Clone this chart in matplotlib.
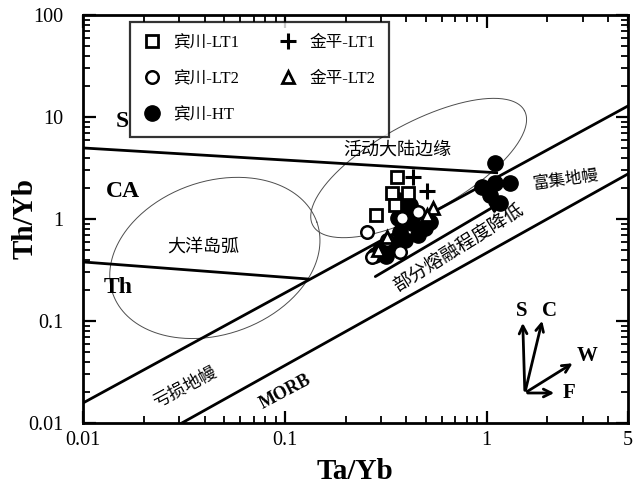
import numpy as np
import matplotlib.pyplot as plt
from matplotlib.ticker import FixedLocator, FixedFormatter, LogLocator, NullFormatter

plt.rcParams['font.family'] = ['Liberation Serif', 'Noto Sans CJK SC']

# 宾川-LT1 (open squares)
bc_lt1_x = [0.358, 0.339, 0.406, 0.282, 0.351]
bc_lt1_y = [2.58, 1.80, 1.80, 1.09, 1.37]
# 宾川-LT2 (open circles)
bc_lt2_x = [0.255, 0.455, 0.379, 0.371, 0.320, 0.270]
bc_lt2_y = [0.746, 1.17, 1.02, 0.470, 0.622, 0.424]
# 宾川-HT (filled circles)
bc_ht_x = [1.096, 0.944, 1.096, 1.30, 1.035, 1.16,
           0.362, 0.393, 0.362, 0.426, 0.493, 0.455, 0.371,
           0.393, 0.339, 0.295, 0.279, 0.316, 0.522, 0.416]
bc_ht_y = [3.54, 2.06, 2.25, 2.25, 1.72, 1.43,
           1.54, 1.22, 1.02, 0.914, 0.817, 0.697, 0.746,
           0.622, 0.556, 0.496, 0.444, 0.434, 0.935, 1.37]
# 金平-LT1 (plus)
jp_lt1_x = [0.431, 0.505]
jp_lt1_y = [2.58, 1.88]
# 金平-LT2 (open triangles)
jp_lt2_x = [0.541, 0.505, 0.320, 0.290]
jp_lt2_y = [1.28, 1.09, 0.667, 0.496]

# field boundaries
s_ca_x, s_ca_y = [0.01, 1.12], [4.97, 2.84]
ca_th_x, ca_th_y = [0.01, 0.13], [0.379, 0.258]
upper_x, upper_y = [0.01, 5.0], [0.0157, 12.8]
lower_x, lower_y = [0.0309, 5.0], [0.01, 2.76]
melt_x, melt_y = [0.273, 1.23], [0.264, 1.53]

# ellipses: centre (Ta/Yb, Th/Yb), semi-axes in decades, angle in degrees
arc_ell = (0.045, 0.415, 1.06, 0.75, 19.4)
acm_ell = (0.46, 3.16, 1.18, 0.44, 28.5)

fig = plt.figure(figsize=(6.35, 4.96), dpi=100)
ax = fig.add_axes([0.1307, 0.1472, 0.858, 0.8226])
ax.set_xscale('log')
ax.set_yscale('log')
ax.set_xlim(0.01, 5)
ax.set_ylim(0.01, 100)

# decade aspect of the axes (x decade px / y decade px)
asp = (0.858 * 635 / np.log10(5 / 0.01)) / (0.8226 * 496 / 4)

def ellipse(cx, cy, a, b, ang):
    t = np.linspace(0, 2 * np.pi, 300)
    th = np.radians(ang)
    lx = np.log10(cx) + (a * np.cos(t) * np.cos(th) - b * np.sin(t) * np.sin(th)) / asp
    ly = np.log10(cy) + (a * np.cos(t) * np.sin(th) + b * np.sin(t) * np.cos(th))
    return 10 ** lx, 10 ** ly

for e in (arc_ell, acm_ell):
    ex, ey = ellipse(*e)
    ax.plot(ex, ey, color='0.3', lw=0.7)

for lx, ly in [(s_ca_x, s_ca_y), (ca_th_x, ca_th_y), (upper_x, upper_y), (lower_x, lower_y)]:
    ax.plot(lx, ly, color='k', lw=2)

ax.annotate('', xy=(melt_x[1], melt_y[1]), xytext=(melt_x[0], melt_y[0]),
            arrowprops=dict(arrowstyle='-|>', lw=2, color='k', mutation_scale=16))

ax.plot(bc_ht_x, bc_ht_y, ls='none', marker='o', ms=11, mfc='k', mec='k', label='宾川-HT')
ax.plot(bc_lt1_x, bc_lt1_y, ls='none', marker='s', ms=8, mfc='white', mec='k', mew=2, label='宾川-LT1')
ax.plot(bc_lt2_x, bc_lt2_y, ls='none', marker='o', ms=9, mfc='white', mec='k', mew=1.8, label='宾川-LT2')
ax.plot(jp_lt1_x, jp_lt1_y, ls='none', marker='+', ms=11, mec='k', mew=2.2, label='金平-LT1')
ax.plot(jp_lt2_x, jp_lt2_y, ls='none', marker='^', ms=9, mfc='white', mec='k', mew=2, label='金平-LT2')

h, l = ax.get_legend_handles_labels()
order = [1, 2, 0, 3, 4]
leg = ax.legend([h[i] for i in order], [l[i] for i in order], ncol=2, loc='upper left',
                bbox_to_anchor=(0.086, 0.983), frameon=True, fancybox=False, edgecolor='k',
                fontsize=12, handletextpad=0.8, columnspacing=2.4, labelspacing=1.2,
                borderpad=0.8, handlelength=1.0, borderaxespad=0)
leg.get_frame().set_linewidth(1.6)

# field labels
ax.text(0.362, 4.74, '活动大陆边缘', fontsize=13, ha='center', va='center')
ax.text(0.0393, 0.531, '大洋岛弧', fontsize=13, ha='center', va='center')
ax.text(2.46, 2.41, '富集地幔', fontsize=12, ha='center', va='center', rotation=8)
ax.text(0.726, 0.52, '部分熔融程度降低', fontsize=13.5, ha='center', va='center', rotation=32)
ax.text(0.032, 0.022, '亏损地幔', fontsize=12.5, ha='center', va='center', rotation=28)
ax.text(0.1, 0.0201, 'MORB', fontsize=13, fontweight='bold', ha='center', va='center', rotation=28)
ax.text(0.0156, 8.93, 'S', fontsize=17, fontweight='bold', ha='center', va='center')
ax.text(0.0158, 1.84, 'CA', fontsize=17, fontweight='bold', ha='center', va='center')
ax.text(0.0149, 0.215, 'Th', fontsize=17, fontweight='bold', ha='center', va='center')

# vector diagram (S, C, W, F)
orig = (0.811, 0.0735)
vecs = {'S': (0.807, 0.252), 'C': (0.844, 0.257), 'W': (0.903, 0.150), 'F': (0.870, 0.0735)}
lab_pos = {'S': (0.806, 0.275), 'C': (0.857, 0.275), 'W': (0.925, 0.165), 'F': (0.892, 0.0735)}
for k, tip in vecs.items():
    ax.annotate('', xy=tip, xytext=orig, xycoords='axes fraction', textcoords='axes fraction',
                arrowprops=dict(arrowstyle='->', lw=2, color='k', mutation_scale=14))
    ax.text(*lab_pos[k], k, transform=ax.transAxes, fontsize=15, fontweight='bold',
            ha='center', va='center')

ax.xaxis.set_major_locator(FixedLocator([0.01, 0.1, 1, 5]))
ax.xaxis.set_major_formatter(FixedFormatter(['0.01', '0.1', '1', '5']))
ax.xaxis.set_minor_locator(LogLocator(base=10, subs=np.arange(2, 10), numticks=20))
ax.xaxis.set_minor_formatter(NullFormatter())
ax.yaxis.set_major_locator(FixedLocator([0.01, 0.1, 1, 10, 100]))
ax.yaxis.set_major_formatter(FixedFormatter(['0.01', '0.1', '1', '10', '100']))
ax.yaxis.set_minor_locator(LogLocator(base=10, subs=np.arange(2, 10), numticks=20))
ax.yaxis.set_minor_formatter(NullFormatter())
ax.tick_params(which='both', direction='in', top=True, right=True, labelsize=14.5)
ax.tick_params(which='major', length=9, width=1.6)
ax.tick_params(axis='x', which='major', pad=6)
ax.tick_params(axis='y', which='major', pad=14)
ax.tick_params(which='minor', length=5, width=1.3)
for sp in ax.spines.values():
    sp.set_linewidth(2)

ax.set_xlabel('Ta/Yb', fontsize=21, fontweight='bold')
ax.set_ylabel('Th/Yb', fontsize=21, fontweight='bold')
ax.xaxis.set_label_coords(0.5, -0.085)
ax.yaxis.set_label_coords(-0.082, 0.5)

fig.savefig('out.png', dpi=100)
